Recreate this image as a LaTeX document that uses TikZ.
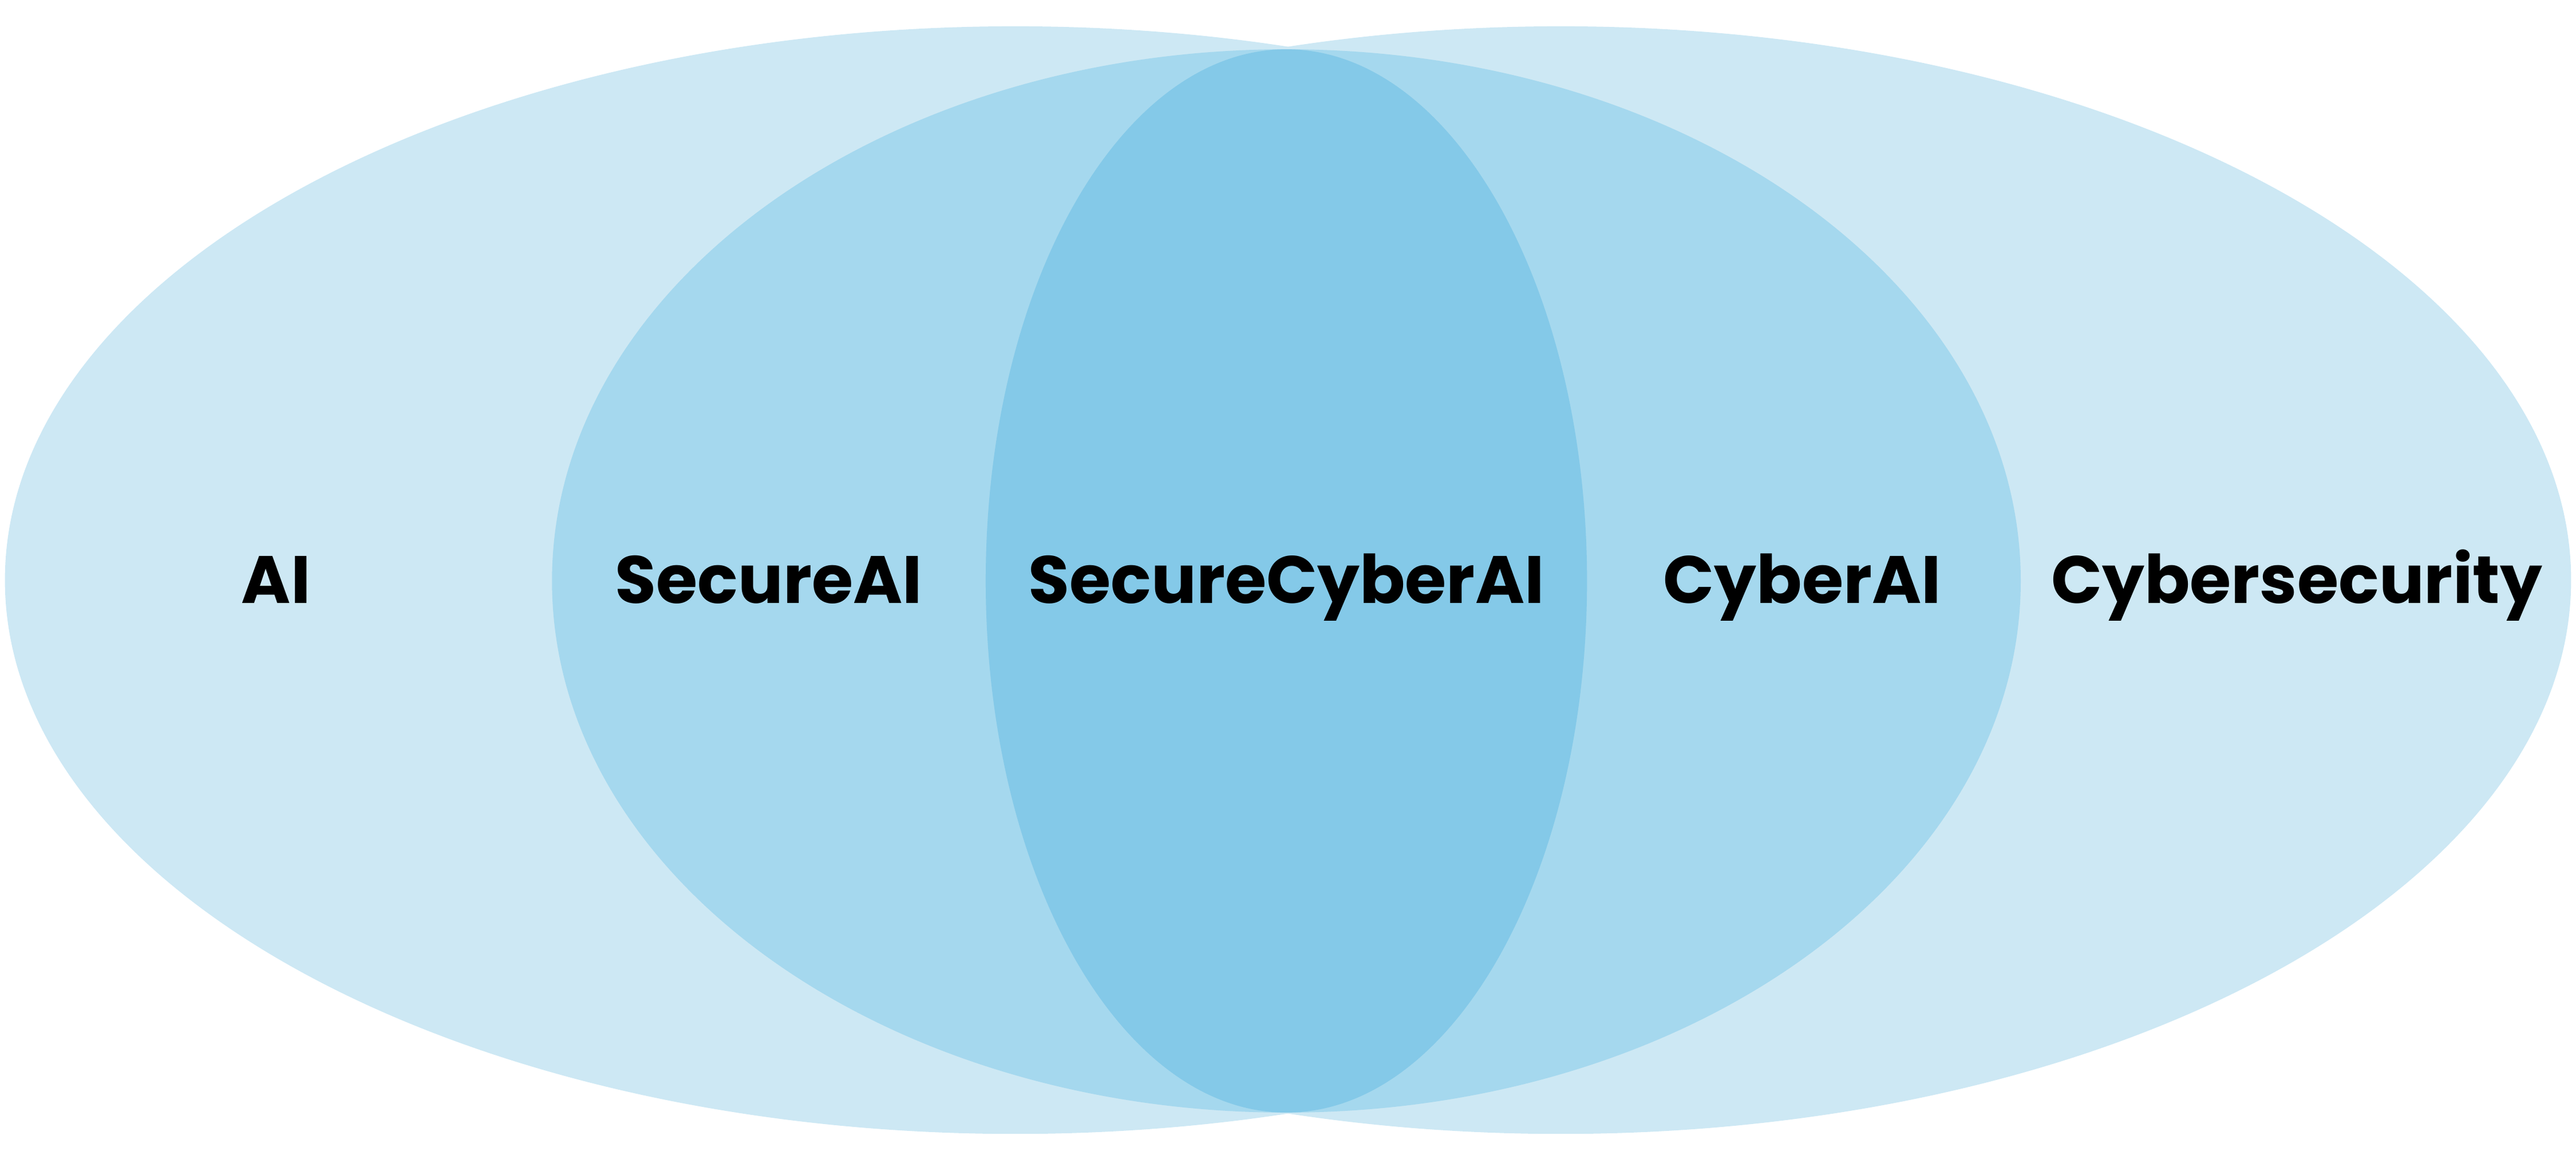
\documentclass[tikz,border=0pt]{standalone}
\usepackage{fontspec}
\setmainfont{Poppins}
\definecolor{lightb}{HTML}{CDE8F4}
\definecolor{midb}{HTML}{A5D8EE}
\definecolor{darkb}{HTML}{84C9E8}
\begin{document}
\begin{tikzpicture}[x=0.5mm,y=-0.5mm,
  lbl/.style={font=\fontsize{58}{60}\selectfont\bfseries, text=black, inner sep=0pt, anchor=base}]
\useasboundingbox (0,0) rectangle (1568,707.4);
\fill[lightb] (618,353) ellipse [x radius=615, y radius=337];
\fill[lightb] (950,353) ellipse [x radius=615, y radius=337];
\fill[midb] (783,353.5) ellipse [x radius=447, y radius=323.5];
\fill[darkb] (783,353.5) ellipse [x radius=183, y radius=323.5];
\node[lbl] (ai) at (168,367) {AI};
\node[lbl] (sai) at (468,367) {SecureAI};
\node[lbl] (scai) at (783,367) {SecureCyberAI};
\node[lbl] (cai) at (1097,367) {CyberAI};
\node[lbl] (cs) at (1398,367) {Cybersecurity};
\end{tikzpicture}
\end{document}
